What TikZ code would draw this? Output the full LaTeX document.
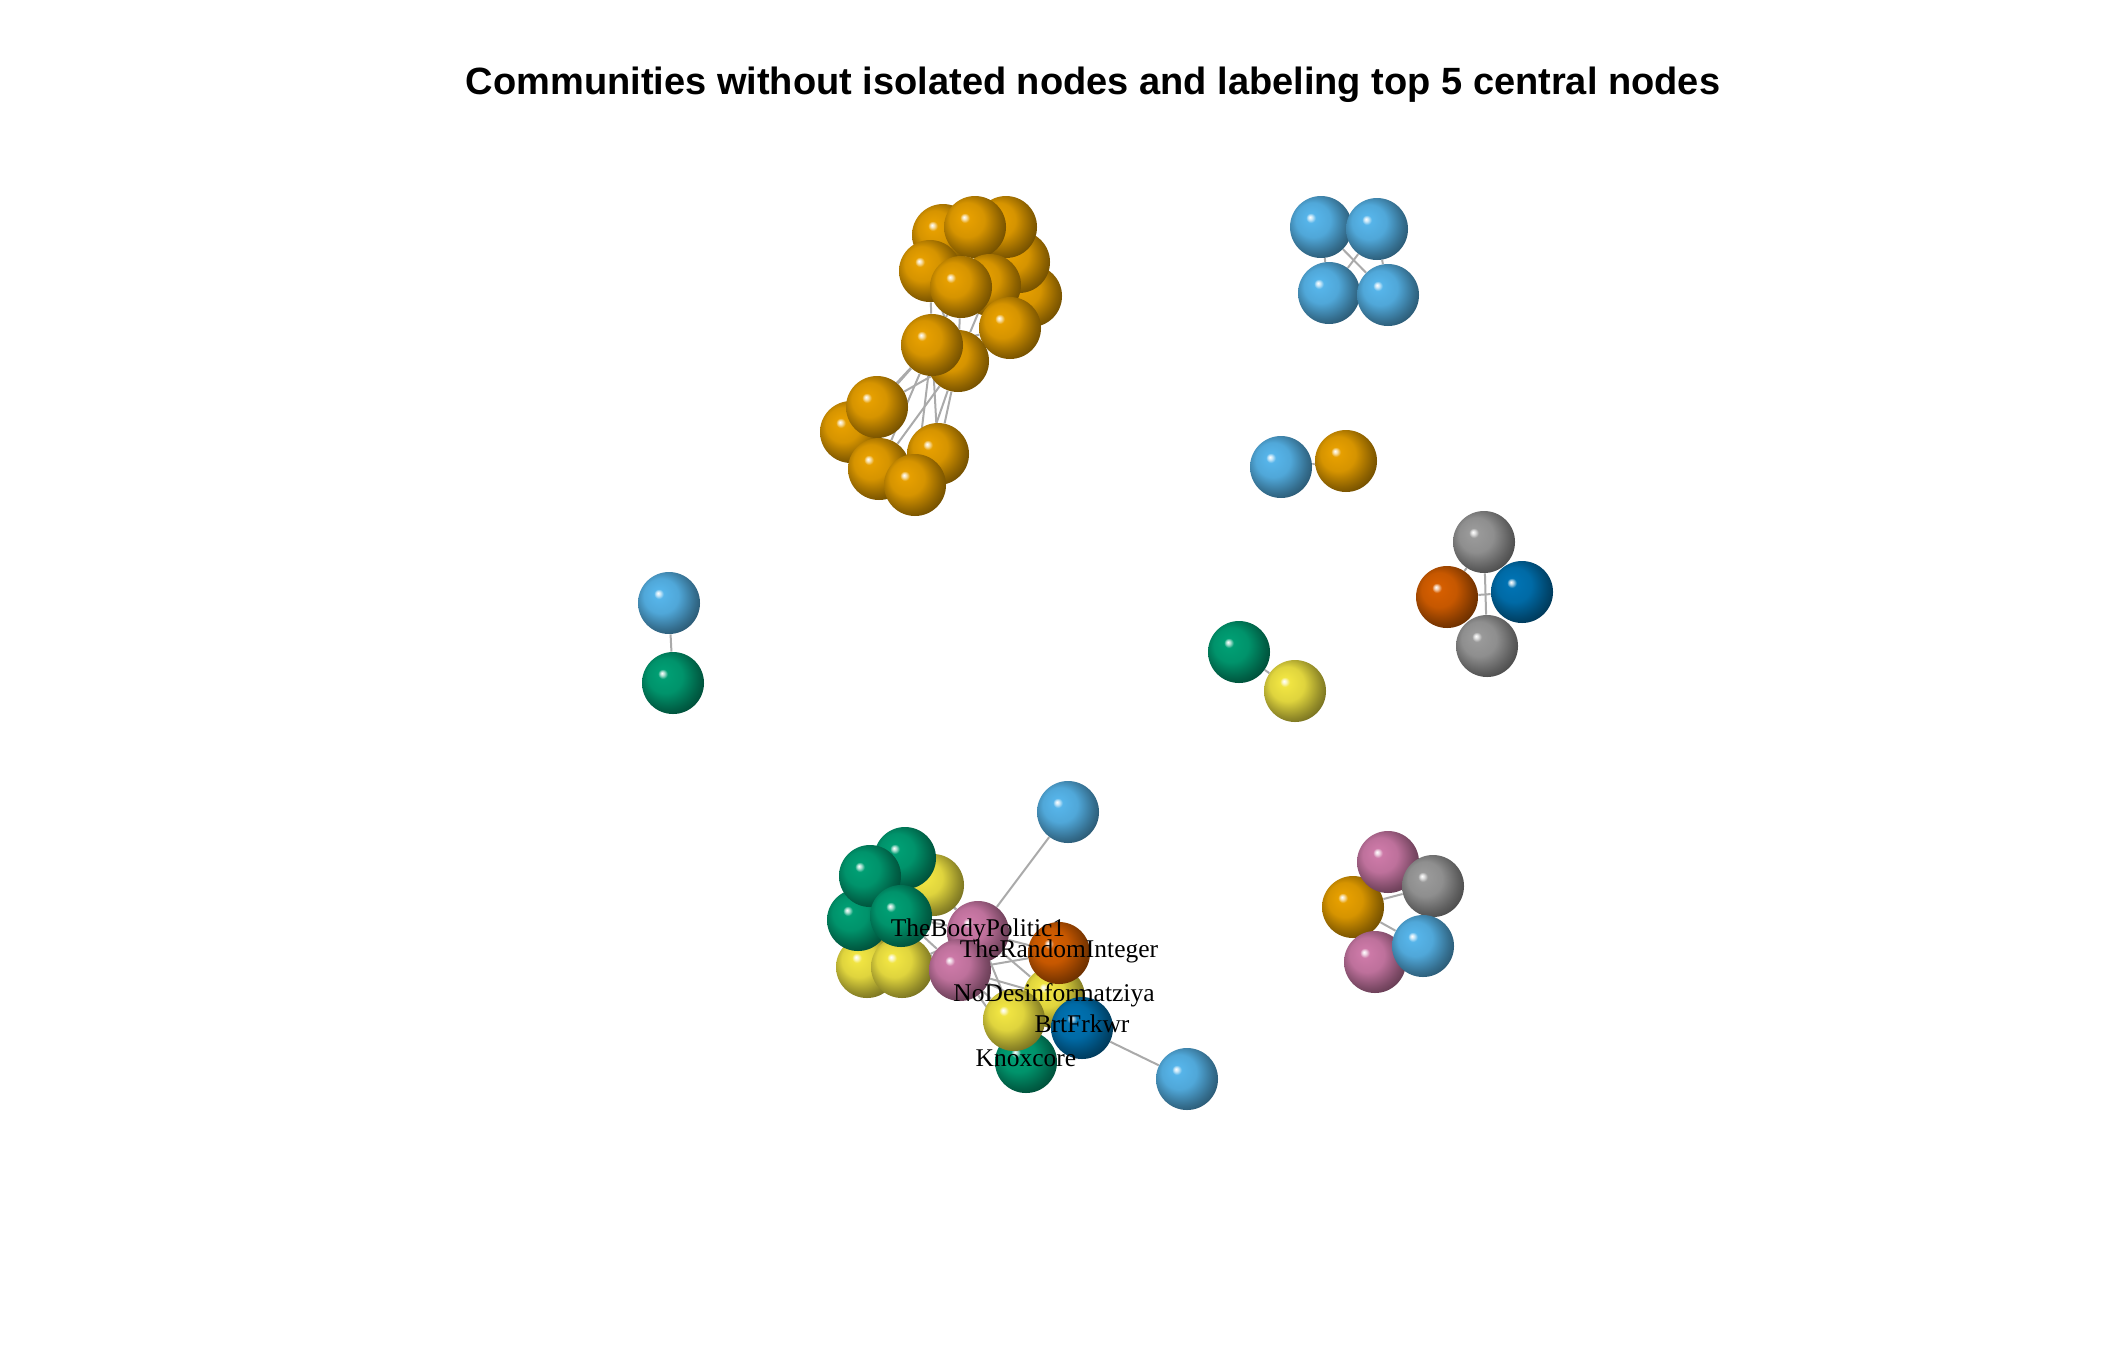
\documentclass[tikz,border=0pt]{standalone}
\usepackage{fontspec}
\setmainfont{Liberation Serif}
\newfontfamily\titlefont{Liberation Sans}
\definecolor{okorange}{HTML}{E69F00}
\definecolor{okskyblue}{HTML}{56B4E9}
\definecolor{okgreen}{HTML}{009E73}
\definecolor{okyellow}{HTML}{F0E442}
\definecolor{okblue}{HTML}{0072B2}
\definecolor{okvermil}{HTML}{D55E00}
\definecolor{okpurple}{HTML}{CC79A7}
\definecolor{okgray}{HTML}{999999}
\definecolor{edgegray}{HTML}{AAAAAA}
\usetikzlibrary{backgrounds}

\colorlet{spherecol}{okorange}
\pgfdeclareradialshading[spherecol]{sphere}{\pgfqpoint{-9bp}{8bp}}{%
  color(0bp)=(white);
  color(1.6bp)=(spherecol!30!white);
  color(4bp)=(spherecol);
  color(14bp)=(spherecol!93!black);
  color(25bp)=(spherecol!62!black);
  color(33bp)=(spherecol!42!black);
  color(50bp)=(spherecol!40!black)}

\tikzset{
  vtx/.style={circle, inner sep=0pt, minimum size=31pt, shading=sphere,
    /utils/exec={\colorlet{spherecol}{#1}}},
  lnk/.style={draw=edgegray, line width=1pt},
  lbl/.style={font=\fontsize{12.75}{15}\selectfont, inner sep=0pt,
    text height=0.68em, text depth=0.22em}
}

\begin{document}
\begin{tikzpicture}[x=0.5pt,y=-0.5pt]
  \useasboundingbox (0,0) rectangle (2112,1344);

  \node[font=\titlefont\bfseries\fontsize{19}{23}\selectfont, anchor=base] (title) at (1093,94)
    {Communities without isolated nodes and labeling top 5 central nodes};

  % big orange community
  \foreach \n/\x/\y in {oe/1031/296, od/1019/262, oc/1006/227, oa/943/235, ob/975/227,
      oh/990/285, of/930/271, og/961/287, oi/1010/328, ok/958/361, oj/932/345,
      om/851/432, ol/877/407, oo/879/469, on/938/454, op/915/485}
    \node[vtx=okorange] (\n) at (\x,\y) {};

  % small groups
  \foreach \n/\x/\y in {ba/1321/227, bb/1377/229, bc/1329/293, bd/1388/295}
    \node[vtx=okskyblue] (\n) at (\x,\y) {};
  \node[vtx=okskyblue] (pb) at (1281,467) {};
  \node[vtx=okorange] (po) at (1346,461) {};
  \node[vtx=okgray] (ga) at (1484,542) {};
  \node[vtx=okvermil] (vo) at (1447,597) {};
  \node[vtx=okblue] (db) at (1522,592) {};
  \node[vtx=okgray] (gb) at (1487,646) {};
  \node[vtx=okgreen] (gg) at (1239,652) {};
  \node[vtx=okyellow] (gy) at (1295,691) {};
  \node[vtx=okskyblue] (lb) at (669,603) {};
  \node[vtx=okgreen] (lg) at (673,683) {};
  \node[vtx=okorange] (qo) at (1353,907) {};
  \node[vtx=okpurple] (qp2) at (1375,962) {};
  \node[vtx=okpurple] (qp1) at (1388,862) {};
  \node[vtx=okgray] (qg) at (1433,886) {};
  \node[vtx=okskyblue] (qb) at (1423,946) {};

  % central community
  \node[vtx=okskyblue] (tb) at (1068,812) {};
  \node[vtx=okskyblue] (rb) at (1187,1079) {};
  \foreach \n/\x/\y in {yb/933/885, y1/867/967, y2/902/967}
    \node[vtx=okyellow] (\n) at (\x,\y) {};
  \foreach \n/\x/\y in {g1/905/858, g3/858/920, g2/870/876, g4/901/916}
    \node[vtx=okgreen] (\n) at (\x,\y) {};
  \node[vtx=okpurple] (p1) at (978,932) {};
  \node[vtx=okpurple] (p2) at (960,970) {};
  \node[vtx=okgreen] (g5) at (1026,1062) {};
  \node[vtx=okyellow] (y3) at (1054,997) {};
  \node[vtx=okvermil] (vr) at (1059,953) {};
  \node[vtx=okyellow] (y4) at (1014,1020) {};
  \node[vtx=okblue] (bk) at (1082,1028) {};

  \begin{scope}[on background layer]
    \foreach \a/\b in {oj/ol, oj/om, oj/oo, oj/on, ok/on, ok/op, ok/oo, ok/ol, oj/op,
        of/oj, og/ok, og/oj, oh/ok, oi/ok, oi/oj, of/ok, oa/og, ob/og, oc/oh, od/oi, oe/oi,
        ba/bb, ba/bc, ba/bd, bb/bc, bb/bd, bc/bd, pb/po, ga/gb, vo/db, ga/vo,
        gg/gy, lb/lg, qo/qg, qo/qb, qg/qb, qp1/qg, qo/qp1, qp2/qb, qo/qp2,
        p1/tb, bk/rb, p1/g4, p1/y2, p1/g1, p1/yb, p2/g4, p2/y2, p2/g3, p1/vr, p2/vr,
        p2/y3, p1/y3, p2/y4, p2/bk, p2/g5, p1/y4, vr/y3, y4/bk, g4/y1, g2/yb}
      \draw[lnk] (\a) -- (\b);
  \end{scope}

  \node[lbl] (l1) at (p1) {TheBodyPolitic1};
  \node[lbl] (l2) at (vr) {TheRandomInteger};
  \node[lbl] (l3) at (y3) {NoDesinformatziya};
  \node[lbl] (l4) at (bk) {BrtFrkwr};
  \node[lbl] (l5) at (g5) {Knoxcore};
\end{tikzpicture}
\end{document}
